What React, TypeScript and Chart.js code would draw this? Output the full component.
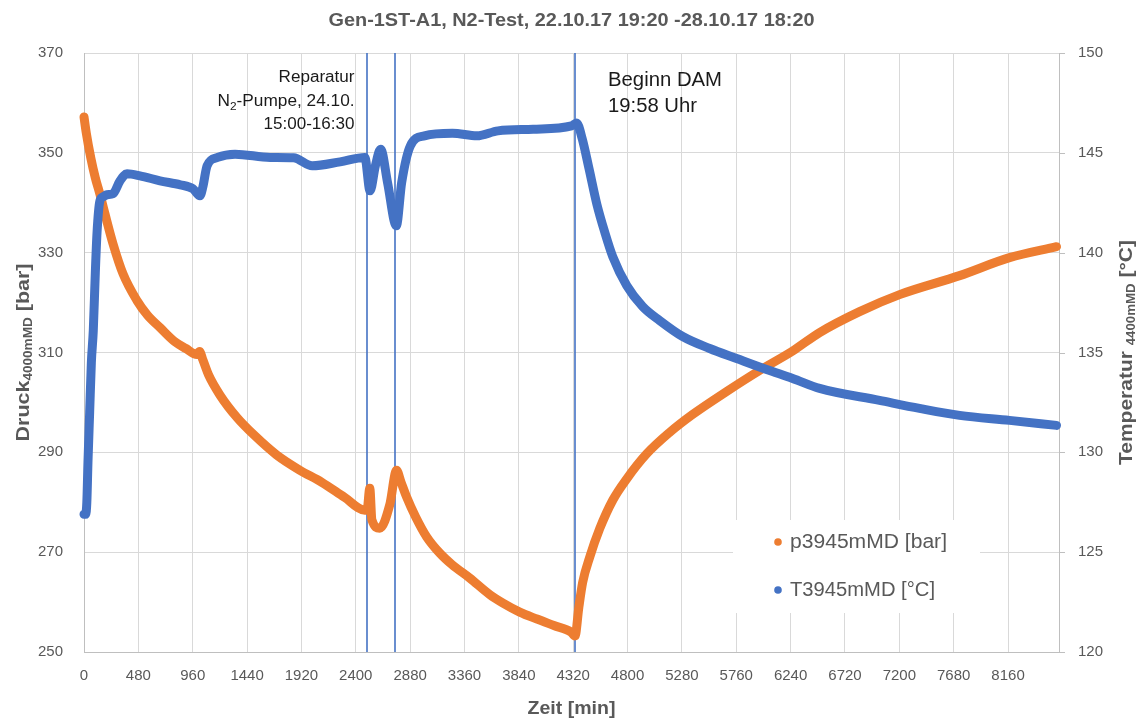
import React, { useEffect, useRef } from 'react';
import { Chart, registerables } from 'chart.js';

Chart.register(...registerables);

// ---------------- data ----------------
const TITLE = 'Gen-1ST-A1, N2-Test, 22.10.17 19:20 -28.10.17 18:20';
const X_TITLE = 'Zeit [min]';
const SERIES_NAMES = ['p3945mMD [bar]', 'T3945mMD [°C]'];

const X_TICKS = [0, 480, 960, 1440, 1920, 2400, 2880, 3360, 3840, 4320, 4800, 5280, 5760, 6240, 6720, 7200, 7680, 8160];
const LEFT_TICKS = [250, 270, 290, 310, 330, 350, 370];
const RIGHT_TICKS = [120, 125, 130, 135, 140, 145, 150];

const PRESSURE_TIME = [0, 20, 60, 100, 141, 185, 256, 344, 468, 560, 671, 800, 900, 997, 1020, 1050, 1100, 1200, 1350, 1500, 1700, 1900, 2100, 2300, 2480, 2500, 2524, 2542, 2612, 2700, 2760, 2800, 2848, 2930, 3025, 3142, 3250, 3407, 3583, 3700, 3848, 4000, 4150, 4300, 4336, 4370, 4404, 4466, 4554, 4669, 4793, 4969, 5172, 5375, 5675, 5966, 6258, 6496, 6849, 7202, 7732, 8173, 8588];
const PRESSURE = [357.2, 354, 349, 345, 341.7, 337.8, 331.8, 325.8, 320.4, 317.5, 315, 312.2, 310.8, 309.6, 310.2, 308.5, 305.5, 301.5, 297, 293.5, 289.5, 286.5, 284, 281, 278.4, 278.5, 282.8, 276.5, 274.8, 279.5, 286.4, 284, 281.1, 277, 273.1, 269.8, 267.5, 264.8, 261.5, 259.8, 258, 256.6, 255.3, 254, 253.2, 259, 264, 269, 274.7, 280.4, 284.7, 289.7, 294, 297.6, 302.2, 306.4, 310.3, 314, 318.2, 321.6, 325.4, 329, 331.2];

const TEMP_TIME = [0, 15, 25, 35, 50, 65, 82, 100, 115, 141, 170, 203, 256, 318, 380, 494, 671, 850, 962, 1024, 1050, 1087, 1180, 1334, 1644, 1850, 2015, 2262, 2480, 2526, 2573, 2620, 2681, 2758, 2805, 2882, 3006, 3253, 3470, 3656, 3966, 4306, 4350, 4400, 4460, 4530, 4600, 4669, 4793, 4934, 5084, 5287, 5525, 5763, 6028, 6258, 6496, 7025, 7378, 7732, 8173, 8588];
const TEMP = [126.9, 126.9, 127.5, 129.5, 132, 134.5, 136.1, 139, 141, 142.6, 142.8, 142.9, 142.95, 143.6, 143.95, 143.85, 143.6, 143.4, 143.2, 142.85, 143.3, 144.35, 144.77, 144.93, 144.77, 144.75, 144.35, 144.55, 144.77, 143.1, 144.35, 145.18, 143.5, 141.35, 143.5, 145.35, 145.85, 145.98, 145.85, 146.1, 146.18, 146.35, 146.5, 145.7, 144.2, 142.4, 141, 139.8, 138.35, 137.3, 136.6, 135.8, 135.2, 134.7, 134.15, 133.7, 133.2, 132.6, 132.2, 131.85, 131.6, 131.35];

const EVENT_TIMES = [2495, 2745, 4336];

// ---------------- style ----------------
const ORANGE = '#ED7D31';
const BLUE = '#4472C4';
const TEXT_GRAY = '#595959';
const GRID = '#d9d9d9';
const AXIS = '#bfbfbf';
const FONT = '"Liberation Sans", Arial, sans-serif';

type Run = { text: string; size: number; weight?: string; dy?: number };

function drawRuns(
  ctx: CanvasRenderingContext2D,
  runs: Run[],
  x: number,
  y: number,
  opts: { align: 'left' | 'center' | 'right'; width?: number; rotate?: number; color: string; baseline?: CanvasTextBaseline }
) {
  ctx.save();
  let natural = 0;
  const widths = runs.map((r) => {
    ctx.font = `${r.weight || 'normal'} ${r.size}px ${FONT}`;
    const w = ctx.measureText(r.text).width;
    natural += w;
    return w;
  });
  const sx = opts.width ? opts.width / natural : 1;
  ctx.translate(x, y);
  if (opts.rotate) ctx.rotate(opts.rotate);
  ctx.scale(sx, 1);
  let start = opts.align === 'left' ? 0 : opts.align === 'right' ? -natural : -natural / 2;
  ctx.fillStyle = opts.color;
  ctx.textAlign = 'left';
  ctx.textBaseline = opts.baseline || 'alphabetic';
  runs.forEach((r, i) => {
    ctx.font = `${r.weight || 'normal'} ${r.size}px ${FONT}`;
    ctx.fillText(r.text, start, r.dy || 0);
    start += widths[i];
  });
  ctx.restore();
}

const decorPlugin = {
  id: 'decor',
  beforeDatasetsDraw(chart: any) {
    const ctx: CanvasRenderingContext2D = chart.ctx;
    const { top, bottom } = chart.chartArea;
    const xs = chart.scales.x;
    ctx.save();
    ctx.strokeStyle = BLUE;
    ctx.lineWidth = 1.6;
    EVENT_TIMES.forEach((t) => {
      const px = Math.round(xs.getPixelForValue(t));
      ctx.beginPath();
      ctx.moveTo(px, top);
      ctx.lineTo(px, bottom);
      ctx.stroke();
    });
    ctx.restore();
  },
  afterDatasetsDraw(chart: any) {
    const ctx: CanvasRenderingContext2D = chart.ctx;
    const { left, right, top, bottom } = chart.chartArea;
    const xs = chart.scales.x;
    const ys = chart.scales.y;
    const y1 = chart.scales.y1;

    // right axis tick marks
    ctx.save();
    ctx.strokeStyle = AXIS;
    ctx.lineWidth = 1;
    RIGHT_TICKS.forEach((v) => {
      const py = Math.round(y1.getPixelForValue(v)) + 0.5;
      ctx.beginPath();
      ctx.moveTo(right, py);
      ctx.lineTo(right + 6, py);
      ctx.stroke();
    });
    ctx.restore();

    // tick labels
    LEFT_TICKS.forEach((v) => {
      drawRuns(ctx, [{ text: String(v), size: 15 }], 63, ys.getPixelForValue(v), { align: 'right', color: TEXT_GRAY, baseline: 'middle' });
    });
    RIGHT_TICKS.forEach((v) => {
      drawRuns(ctx, [{ text: String(v), size: 15 }], right + 19, y1.getPixelForValue(v), { align: 'left', color: TEXT_GRAY, baseline: 'middle' });
    });
    X_TICKS.forEach((v) => {
      drawRuns(ctx, [{ text: String(v), size: 15 }], xs.getPixelForValue(v), bottom + 24, { align: 'center', color: TEXT_GRAY, baseline: 'middle' });
    });

    // titles
    const cx = (left + right) / 2;
    drawRuns(ctx, [{ text: TITLE, size: 19, weight: 'bold' }], cx, 26, { align: 'center', width: 486, color: TEXT_GRAY });
    drawRuns(ctx, [{ text: X_TITLE, size: 19, weight: 'bold' }], cx, bottom + 62, { align: 'center', width: 88, color: TEXT_GRAY });
    const cy = (top + bottom) / 2;
    drawRuns(
      ctx,
      [
        { text: 'Druck', size: 19, weight: 'bold' },
        { text: '4000mMD', size: 12, weight: 'bold', dy: 5 },
        { text: ' [bar]', size: 19, weight: 'bold' },
      ],
      24,
      cy,
      { align: 'center', width: 178, rotate: -Math.PI / 2, color: TEXT_GRAY, baseline: 'middle' }
    );
    drawRuns(
      ctx,
      [
        { text: 'Temperatur ', size: 19, weight: 'bold' },
        { text: '4400mMD', size: 12, weight: 'bold', dy: 5 },
        { text: ' [°C]', size: 19, weight: 'bold' },
      ],
      1127,
      cy,
      { align: 'center', width: 225, rotate: -Math.PI / 2, color: TEXT_GRAY, baseline: 'middle' }
    );

    // annotations
    const l1 = xs.getPixelForValue(EVENT_TIMES[0]);
    const l3 = xs.getPixelForValue(EVENT_TIMES[2]);
    const ANN = '#1a1a1a';
    drawRuns(ctx, [{ text: 'Reparatur', size: 16 }], l1 - 12, 82, { align: 'right', width: 76, color: ANN });
    drawRuns(
      ctx,
      [
        { text: 'N', size: 16 },
        { text: '2', size: 11, dy: 4 },
        { text: '-Pumpe, 24.10.', size: 16 },
      ],
      l1 - 12,
      106,
      { align: 'right', width: 137, color: ANN }
    );
    drawRuns(ctx, [{ text: '15:00-16:30', size: 16 }], l1 - 12, 129, { align: 'right', width: 91, color: ANN });
    drawRuns(ctx, [{ text: 'Beginn DAM', size: 19.5 }], l3 + 33, 86, { align: 'left', width: 114, color: ANN });
    drawRuns(ctx, [{ text: '19:58 Uhr', size: 19.5 }], l3 + 33, 112, { align: 'left', width: 89, color: ANN });

    // legend
    ctx.save();
    ctx.fillStyle = '#ffffff';
    ctx.fillRect(733, 520, 247, 93);
    const items = [
      { name: SERIES_NAMES[0], color: ORANGE, y: 542 },
      { name: SERIES_NAMES[1], color: BLUE, y: 590 },
    ];
    items.forEach((it) => {
      ctx.beginPath();
      ctx.fillStyle = it.color;
      ctx.arc(778, it.y, 3.8, 0, Math.PI * 2);
      ctx.fill();
    });
    ctx.restore();
    drawRuns(ctx, [{ text: items[0].name, size: 20 }], 790, items[0].y, { align: 'left', width: 157, color: TEXT_GRAY, baseline: 'middle' });
    drawRuns(ctx, [{ text: items[1].name, size: 20 }], 790, items[1].y, { align: 'left', width: 145, color: TEXT_GRAY, baseline: 'middle' });
  },
};

export default function App() {
  const ref = useRef<HTMLCanvasElement | null>(null);

  useEffect(() => {
    document.body.style.margin = '0';
    const canvas = ref.current;
    if (!canvas) return;
    const lineStyle = {
      showLine: true,
      pointRadius: 0,
      pointHoverRadius: 0,
      borderWidth: 9,
      cubicInterpolationMode: 'monotone' as const,
      borderCapStyle: 'round' as const,
      borderJoinStyle: 'round' as const,
      clip: false as const,
    };
    const chart = new Chart(canvas, {
      type: 'scatter',
      data: {
        datasets: [
          {
            label: SERIES_NAMES[0],
            data: PRESSURE_TIME.map((t, i) => ({ x: t, y: PRESSURE[i] })),
            yAxisID: 'y',
            borderColor: ORANGE,
            backgroundColor: ORANGE,
            order: 2,
            ...lineStyle,
          },
          {
            label: SERIES_NAMES[1],
            data: TEMP_TIME.map((t, i) => ({ x: t, y: TEMP[i] })),
            yAxisID: 'y1',
            borderColor: BLUE,
            backgroundColor: BLUE,
            order: 1,
            ...lineStyle,
          },
        ],
      },
      options: {
        animation: false,
        responsive: false,
        events: [],
        layout: { padding: { left: 84, right: 82, top: 53, bottom: 70 } },
        plugins: {
          legend: { display: false },
          title: { display: false },
          tooltip: { enabled: false },
        },
        scales: {
          x: {
            type: 'linear',
            min: 0,
            max: 8610,
            afterBuildTicks: (s: any) => {
              s.ticks = X_TICKS.map((v) => ({ value: v }));
            },
            ticks: { display: false },
            grid: { color: GRID, drawTicks: false },
            border: { color: AXIS },
          },
          y: {
            type: 'linear',
            position: 'left',
            min: 250,
            max: 370,
            afterBuildTicks: (s: any) => {
              s.ticks = LEFT_TICKS.map((v) => ({ value: v }));
            },
            ticks: { display: false },
            grid: { color: GRID, drawTicks: false },
            border: { color: AXIS },
          },
          y1: {
            type: 'linear',
            position: 'right',
            min: 120,
            max: 150,
            afterBuildTicks: (s: any) => {
              s.ticks = RIGHT_TICKS.map((v) => ({ value: v }));
            },
            ticks: { display: false },
            grid: { drawOnChartArea: false, drawTicks: false },
            border: { color: AXIS },
          },
        },
      },
      plugins: [decorPlugin],
    });
    return () => chart.destroy();
  }, []);

  return (
    <div style={{ width: 1141, height: 722, background: '#ffffff' }}>
      <canvas ref={ref} width={1141} height={722} style={{ display: 'block', width: 1141, height: 722 }} />
    </div>
  );
}
